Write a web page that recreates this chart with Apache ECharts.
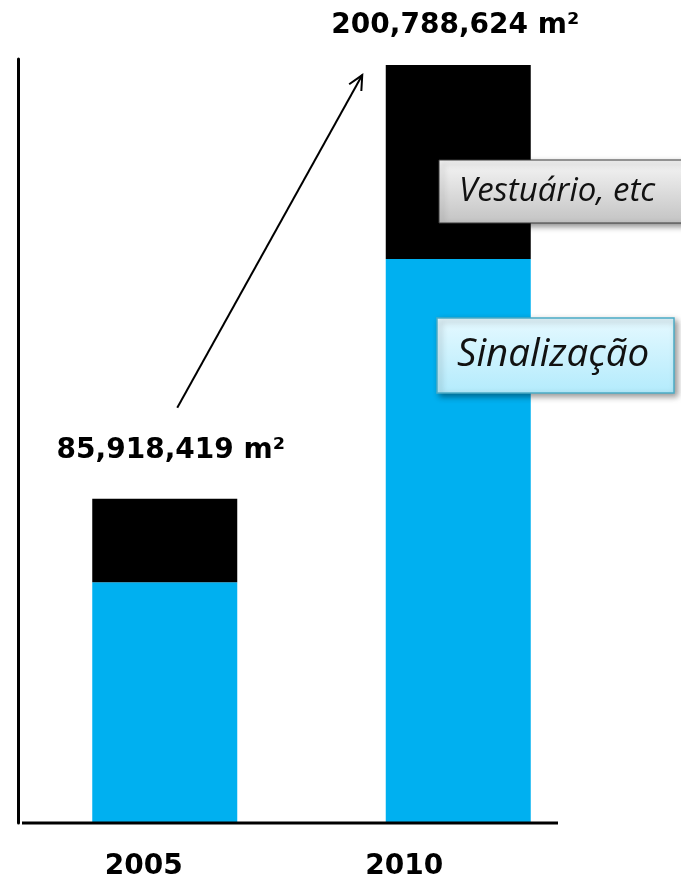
<!DOCTYPE html>
<html>
<head>
<meta charset="utf-8">
<script src="https://cdn.jsdelivr.net/npm/echarts@6/dist/echarts.min.js"></script>
<style>
html,body{margin:0;padding:0;background:#fff;}
#chart{width:681px;height:885px;}
</style>
</head>
<body>
<div id="chart"></div>
<script>
// ---- data ----
const categories = ['2005', '2010'];
const sinalizacao = [63800000, 149400000];
const vestuario = [22118419, 51388624];
const totalLabels = ['85,918,419 m²', '200,788,624 m²'];
const seriesNames = ['Sinalização', 'Vestuário, etc'];

const chart = echarts.init(document.getElementById('chart'), null, {renderer: 'canvas'});

const labelFont = 'DejaVu Sans';
const labelOffsets = [[6, 0], [-3, 0]];
const labelDistances = [34, 25];
const axisPads = [[0, 42, 0, 0], [0, 108, 0, 0]];

const vestData = vestuario.map((v, i) => ({
  value: v,
  label: {
    show: true,
    position: 'top',
    distance: labelDistances[i],
    offset: labelOffsets[i],
    formatter: () => totalLabels[i]
  }
}));

const option = {
  animation: false,
  grid: {left: 18, right: 76, top: 59, bottom: 62},
  xAxis: {
    type: 'category',
    data: categories,
    axisLine: {show: false},
    axisTick: {show: false},
    axisLabel: {
      margin: 30,
      formatter: (v, i) => '{c' + i + '|' + v + '}',
      rich: {
        c0: {fontFamily: labelFont, fontWeight: 'bold', fontSize: 28, color: '#000', padding: axisPads[0]},
        c1: {fontFamily: labelFont, fontWeight: 'bold', fontSize: 28, color: '#000', padding: axisPads[1]}
      }
    }
  },
  yAxis: {
    type: 'value',
    min: 0,
    max: 202400000,
    axisLine: {show: true, lineStyle: {color: '#000', width: 3}},
    axisTick: {show: false},
    axisLabel: {show: false},
    splitLine: {show: false}
  },
  series: [
    {
      name: seriesNames[0],
      type: 'bar',
      stack: 'total',
      barWidth: 145,
      itemStyle: {color: '#00B0F0'},
      data: sinalizacao
    },
    {
      name: seriesNames[1],
      type: 'bar',
      stack: 'total',
      barWidth: 145,
      itemStyle: {color: '#000000'},
      label: {
        fontFamily: labelFont,
        fontWeight: 'bold',
        fontSize: 28,
        color: '#000'
      },
      data: vestData
    }
  ]
};
chart.setOption(option);

// annotations
const total0 = sinalizacao[0] + vestuario[0];
const total1 = sinalizacao[1] + vestuario[1];
const p0 = chart.convertToPixel({gridIndex: 0}, [0, total0]);
const p1 = chart.convertToPixel({gridIndex: 0}, [1, total1]);
const base = chart.convertToPixel({gridIndex: 0}, [0, 0]);

const start = [p0[0] + 12.5, p0[1] - 91];
const end = [p1[0] - 96, p1[1] + 10];
const ang = Math.atan2(end[1] - start[1], end[0] - start[0]);
const headLen = 16, headAng = 0.45;
const h1 = [end[0] - headLen * Math.cos(ang - headAng), end[1] - headLen * Math.sin(ang - headAng)];
const h2 = [end[0] - headLen * Math.cos(ang + headAng), end[1] - headLen * Math.sin(ang + headAng)];

chart.setOption({
  graphic: [
    {
      type: 'line',
      z: 100,
      shape: {x1: 22, y1: base[1], x2: 558, y2: base[1]},
      style: {stroke: '#000', lineWidth: 3}
    },
    {
      type: 'line',
      z: 100,
      shape: {x1: start[0], y1: start[1], x2: end[0], y2: end[1]},
      style: {stroke: '#000', lineWidth: 2}
    },
    {
      type: 'polyline',
      z: 100,
      shape: {points: [h1, end, h2]},
      style: {stroke: '#000', lineWidth: 2, fill: null}
    },
    {
      type: 'rect',
      z: 100,
      shape: {x: 439, y: 160, width: 260, height: 63},
      style: {
        fill: new echarts.graphic.LinearGradient(0, 0, 0, 1, [
          {offset: 0, color: '#f6f6f6'},
          {offset: 1, color: '#c3c3c3'}
        ]),
        stroke: '#3a3a3a',
        lineWidth: 1,
        shadowBlur: 6,
        shadowOffsetX: 3,
        shadowOffsetY: 3,
        shadowColor: 'rgba(0,0,0,0.45)'
      }
    },
    {
      type: 'text',
      z: 101,
      x: 459,
      y: 192,
      style: {
        text: seriesNames[1],
        fontFamily: 'Open Sans',
        fontStyle: 'italic',
        fontSize: 33,
        fill: '#111',
        verticalAlign: 'middle'
      }
    },
    {
      type: 'rect',
      z: 100,
      shape: {x: 437, y: 318, width: 237, height: 75},
      style: {
        fill: new echarts.graphic.LinearGradient(0, 0, 0, 1, [
          {offset: 0, color: '#e6f9ff'},
          {offset: 1, color: '#b3ebfc'}
        ]),
        stroke: '#4bacc6',
        lineWidth: 1.5,
        shadowBlur: 6,
        shadowOffsetX: 3,
        shadowOffsetY: 3,
        shadowColor: 'rgba(0,0,0,0.4)'
      }
    },
    {
      type: 'text',
      z: 101,
      x: 457,
      y: 355,
      style: {
        text: seriesNames[0],
        fontFamily: 'Open Sans',
        fontStyle: 'italic',
        fontSize: 38.5,
        fill: '#111',
        verticalAlign: 'middle'
      }
    }
  ]
});
</script>
</body>
</html>
